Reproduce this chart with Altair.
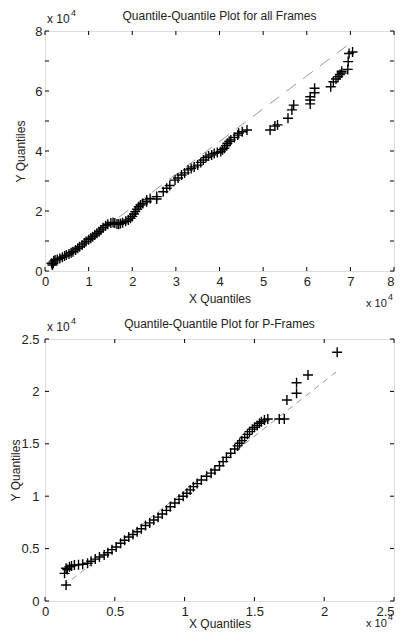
import altair as alt
import pandas as pd

# ---------------- data (x 10^4 units) ----------------
all_x = [0.15, 0.17, 0.19, 0.20, 0.23, 0.28, 0.34, 0.40, 0.45, 0.49, 0.55, 0.60, 0.64, 0.70,
         0.75, 0.79, 0.85, 0.90, 0.94, 1.00, 1.05, 1.09, 1.14, 1.19, 1.24, 1.28, 1.33, 1.39,
         1.44, 1.51, 1.56, 1.60, 1.65, 1.69, 1.73, 1.78, 1.85, 1.91, 1.96, 2.00, 2.04, 2.07,
         2.11, 2.15, 2.19, 2.24, 2.33, 2.33, 2.41, 2.56, 2.56, 2.71, 2.79, 2.86, 2.98, 3.05,
         3.13, 3.20, 3.28, 3.35, 3.42, 3.50, 3.57, 3.63, 3.69, 3.75, 3.82, 3.88, 3.95, 4.03,
         4.07, 4.11, 4.15, 4.18, 4.22, 4.26, 4.34, 4.42, 4.44, 4.52, 4.63, 5.16, 5.27, 5.33,
         5.57, 5.66, 5.70, 6.08, 6.08, 6.08, 6.18, 6.18, 6.55, 6.61, 6.67, 6.72, 6.76, 6.80,
         6.80, 6.94, 6.95, 6.97, 7.05]
all_y = [0.26, 0.20, 0.26, 0.33, 0.37, 0.38, 0.42, 0.46, 0.50, 0.53, 0.57, 0.61, 0.64, 0.70,
         0.76, 0.81, 0.87, 0.93, 0.98, 1.04, 1.09, 1.14, 1.20, 1.26, 1.31, 1.37, 1.44, 1.51,
         1.56, 1.60, 1.62, 1.60, 1.57, 1.56, 1.58, 1.61, 1.66, 1.70, 1.76, 1.82, 1.90, 1.98,
         2.06, 2.14, 2.20, 2.25, 2.31, 2.37, 2.42, 2.40, 2.48, 2.64, 2.76, 2.85, 3.03, 3.10,
         3.20, 3.27, 3.37, 3.42, 3.47, 3.53, 3.62, 3.70, 3.78, 3.83, 3.87, 3.92, 3.95, 3.98,
         4.04, 4.09, 4.18, 4.26, 4.32, 4.37, 4.45, 4.53, 4.59, 4.64, 4.70, 4.70, 4.83, 4.87,
         5.09, 5.37, 5.53, 5.57, 5.70, 5.81, 5.94, 6.09, 6.14, 6.31, 6.40, 6.48, 6.55, 6.60,
         6.66, 6.72, 6.98, 7.25, 7.30]
all_ref_x = [0.15, 7.04]
all_ref_y = [0.10, 7.64]

p_x = [0.151, 0.140, 0.151, 0.160, 0.175, 0.190, 0.211, 0.24, 0.27, 0.305, 0.33, 0.36, 0.39,
       0.424, 0.45, 0.48, 0.51, 0.542, 0.57, 0.60, 0.63, 0.660, 0.69, 0.72, 0.75, 0.779, 0.81,
       0.84, 0.87, 0.897, 0.93, 0.96, 0.99, 1.016, 1.04, 1.063, 1.09, 1.12, 1.158, 1.19, 1.217,
       1.25, 1.276, 1.30, 1.33, 1.359, 1.38, 1.394, 1.41, 1.43, 1.45, 1.465, 1.485, 1.501,
       1.52, 1.536, 1.55, 1.572, 1.596, 1.678, 1.714, 1.733, 1.802, 1.802, 1.884, 2.093]
p_y = [0.153, 0.264, 0.312, 0.300, 0.327, 0.335, 0.343, 0.345, 0.35, 0.36, 0.38, 0.40, 0.42,
       0.439, 0.46, 0.49, 0.515, 0.551, 0.58, 0.61, 0.635, 0.661, 0.69, 0.72, 0.745, 0.773, 0.80,
       0.83, 0.865, 0.90, 0.935, 0.97, 1.00, 1.028, 1.06, 1.091, 1.12, 1.155, 1.19, 1.22, 1.25,
       1.29, 1.33, 1.37, 1.41, 1.45, 1.48, 1.505, 1.53, 1.56, 1.59, 1.616, 1.64, 1.657,
       1.675, 1.696, 1.71, 1.727, 1.737, 1.737, 1.737, 1.918, 1.982, 2.083, 2.157, 2.373]
p_ref_x = [0.13, 2.09]
p_ref_y = [0.14, 2.19]

all_ticks = [0, 1, 2, 3, 4, 5, 6, 7, 8]
p_ticks = [0, 0.5, 1, 1.5, 2, 2.5]

SCALE = 10000
FONT = "Liberation Sans"
PLUS = "M-1,0L1,0M0,-1L0,1"


def panel(px, py, rx, ry, ticks, title, W, H, dash, low):
    dmax = ticks[-1] * SCALE
    xs = alt.Scale(domain=[0, dmax], nice=False, zero=False)
    ys = alt.Scale(domain=[0, dmax], nice=False, zero=False)
    vals = [t * SCALE for t in ticks]
    xaxis = alt.Axis(values=vals, labelExpr="'' + datum.value / 10000", title="X Quantiles",
                     ticks=False, tickSize=0, domain=False, grid=False, labelPadding=4,
                     labelOverlap=False, labelBound=False,
                     labelAlign={"condition": {"test": f"datum.value >= {dmax}",
                                               "value": "right"}, "value": "center"},
                     labelFont=FONT, labelFontSize=13, labelColor="#222",
                     titleFont=FONT, titleFontSize=12, titleFontWeight="normal",
                     titleColor="#222", titleY=(22 if low else 27), titleBaseline="middle")
    yaxis = alt.Axis(values=vals, labelExpr="'' + datum.value / 10000", title="Y Quantiles",
                     ticks=False, tickSize=0, domain=False, grid=False,
                     labelPadding=(6 if low else 3), labelOverlap=False,
                     labelFont=FONT, labelFontSize=13, labelColor="#222",
                     titleFont=FONT, titleFontSize=12, titleFontWeight="normal",
                     titleColor="#222", titleX=(-30 if low else -25), titleBaseline="middle")

    pts = pd.DataFrame({"x": [v * SCALE for v in px], "y": [v * SCALE for v in py]})
    ref = pd.DataFrame({"x": [v * SCALE for v in rx], "y": [v * SCALE for v in ry]})
    tx = pd.DataFrame({"x": vals})
    ty = pd.DataFrame({"y": vals})
    one = pd.DataFrame({"a": [0]})

    refline = alt.Chart(ref).mark_line(color="#999", strokeWidth=1, strokeDash=dash).encode(
        x=alt.X("x:Q", scale=xs, axis=xaxis), y=alt.Y("y:Q", scale=ys, axis=yaxis))
    points = alt.Chart(pts).mark_point(shape=PLUS, filled=False, size=100, strokeWidth=1.4,
                                       color="black", opacity=1).encode(
        x=alt.X("x:Q", scale=xs), y=alt.Y("y:Q", scale=ys))
    tb = alt.Chart(tx).mark_rule(color="black").encode(
        x=alt.X("x:Q", scale=xs), y=alt.value(H), y2=alt.value(H - 4))
    tt = alt.Chart(tx).mark_rule(color="black").encode(
        x=alt.X("x:Q", scale=xs), y=alt.value(0), y2=alt.value(4))
    tl = alt.Chart(ty).mark_rule(color="black").encode(
        y=alt.Y("y:Q", scale=ys), x=alt.value(0), x2=alt.value(4))
    tr = alt.Chart(ty).mark_rule(color="black").encode(
        y=alt.Y("y:Q", scale=ys), x=alt.value(W), x2=alt.value(W - 4))

    def txt(s, x, y, size, align="left"):
        return alt.Chart(one).mark_text(text=s, font=FONT, fontSize=size, color="#222",
                                        align=align, baseline="middle").encode(
            x=alt.value(x), y=alt.value(y))

    dy = -10 if low else 0
    ttl = txt(title, W / 2, -15, 12, "center")
    e1a = txt("x 10", 2, -12, 12)
    e1b = txt("4", 26, -18, 9)
    e2a = txt("x 10", W - 28, H + 33 + dy, 11)
    e2b = txt("4", W - 6, H + 26 + dy, 9)

    return alt.layer(refline, points, tb, tt, tl, tr, ttl, e1a, e1b, e2a, e2b).properties(
        width=W, height=H)


top = panel(all_x, all_y, all_ref_x, all_ref_y, all_ticks,
            "Quantile-Quantile Plot for all Frames", 349, 240, [12, 9], False)
bottom = panel(p_x, p_y, p_ref_x, p_ref_y, p_ticks,
               "Quantile-Quantile Plot for P-Frames", 349, 262, [6, 5], True)

chart = alt.vconcat(top, bottom, spacing=6).properties(
    padding={"left": 0, "top": 0, "right": 0, "bottom": 0}
).configure_view(stroke="black", strokeWidth=1).configure(background="white")

chart.save("out.html", embed_options={"renderer": "svg", "actions": False})
